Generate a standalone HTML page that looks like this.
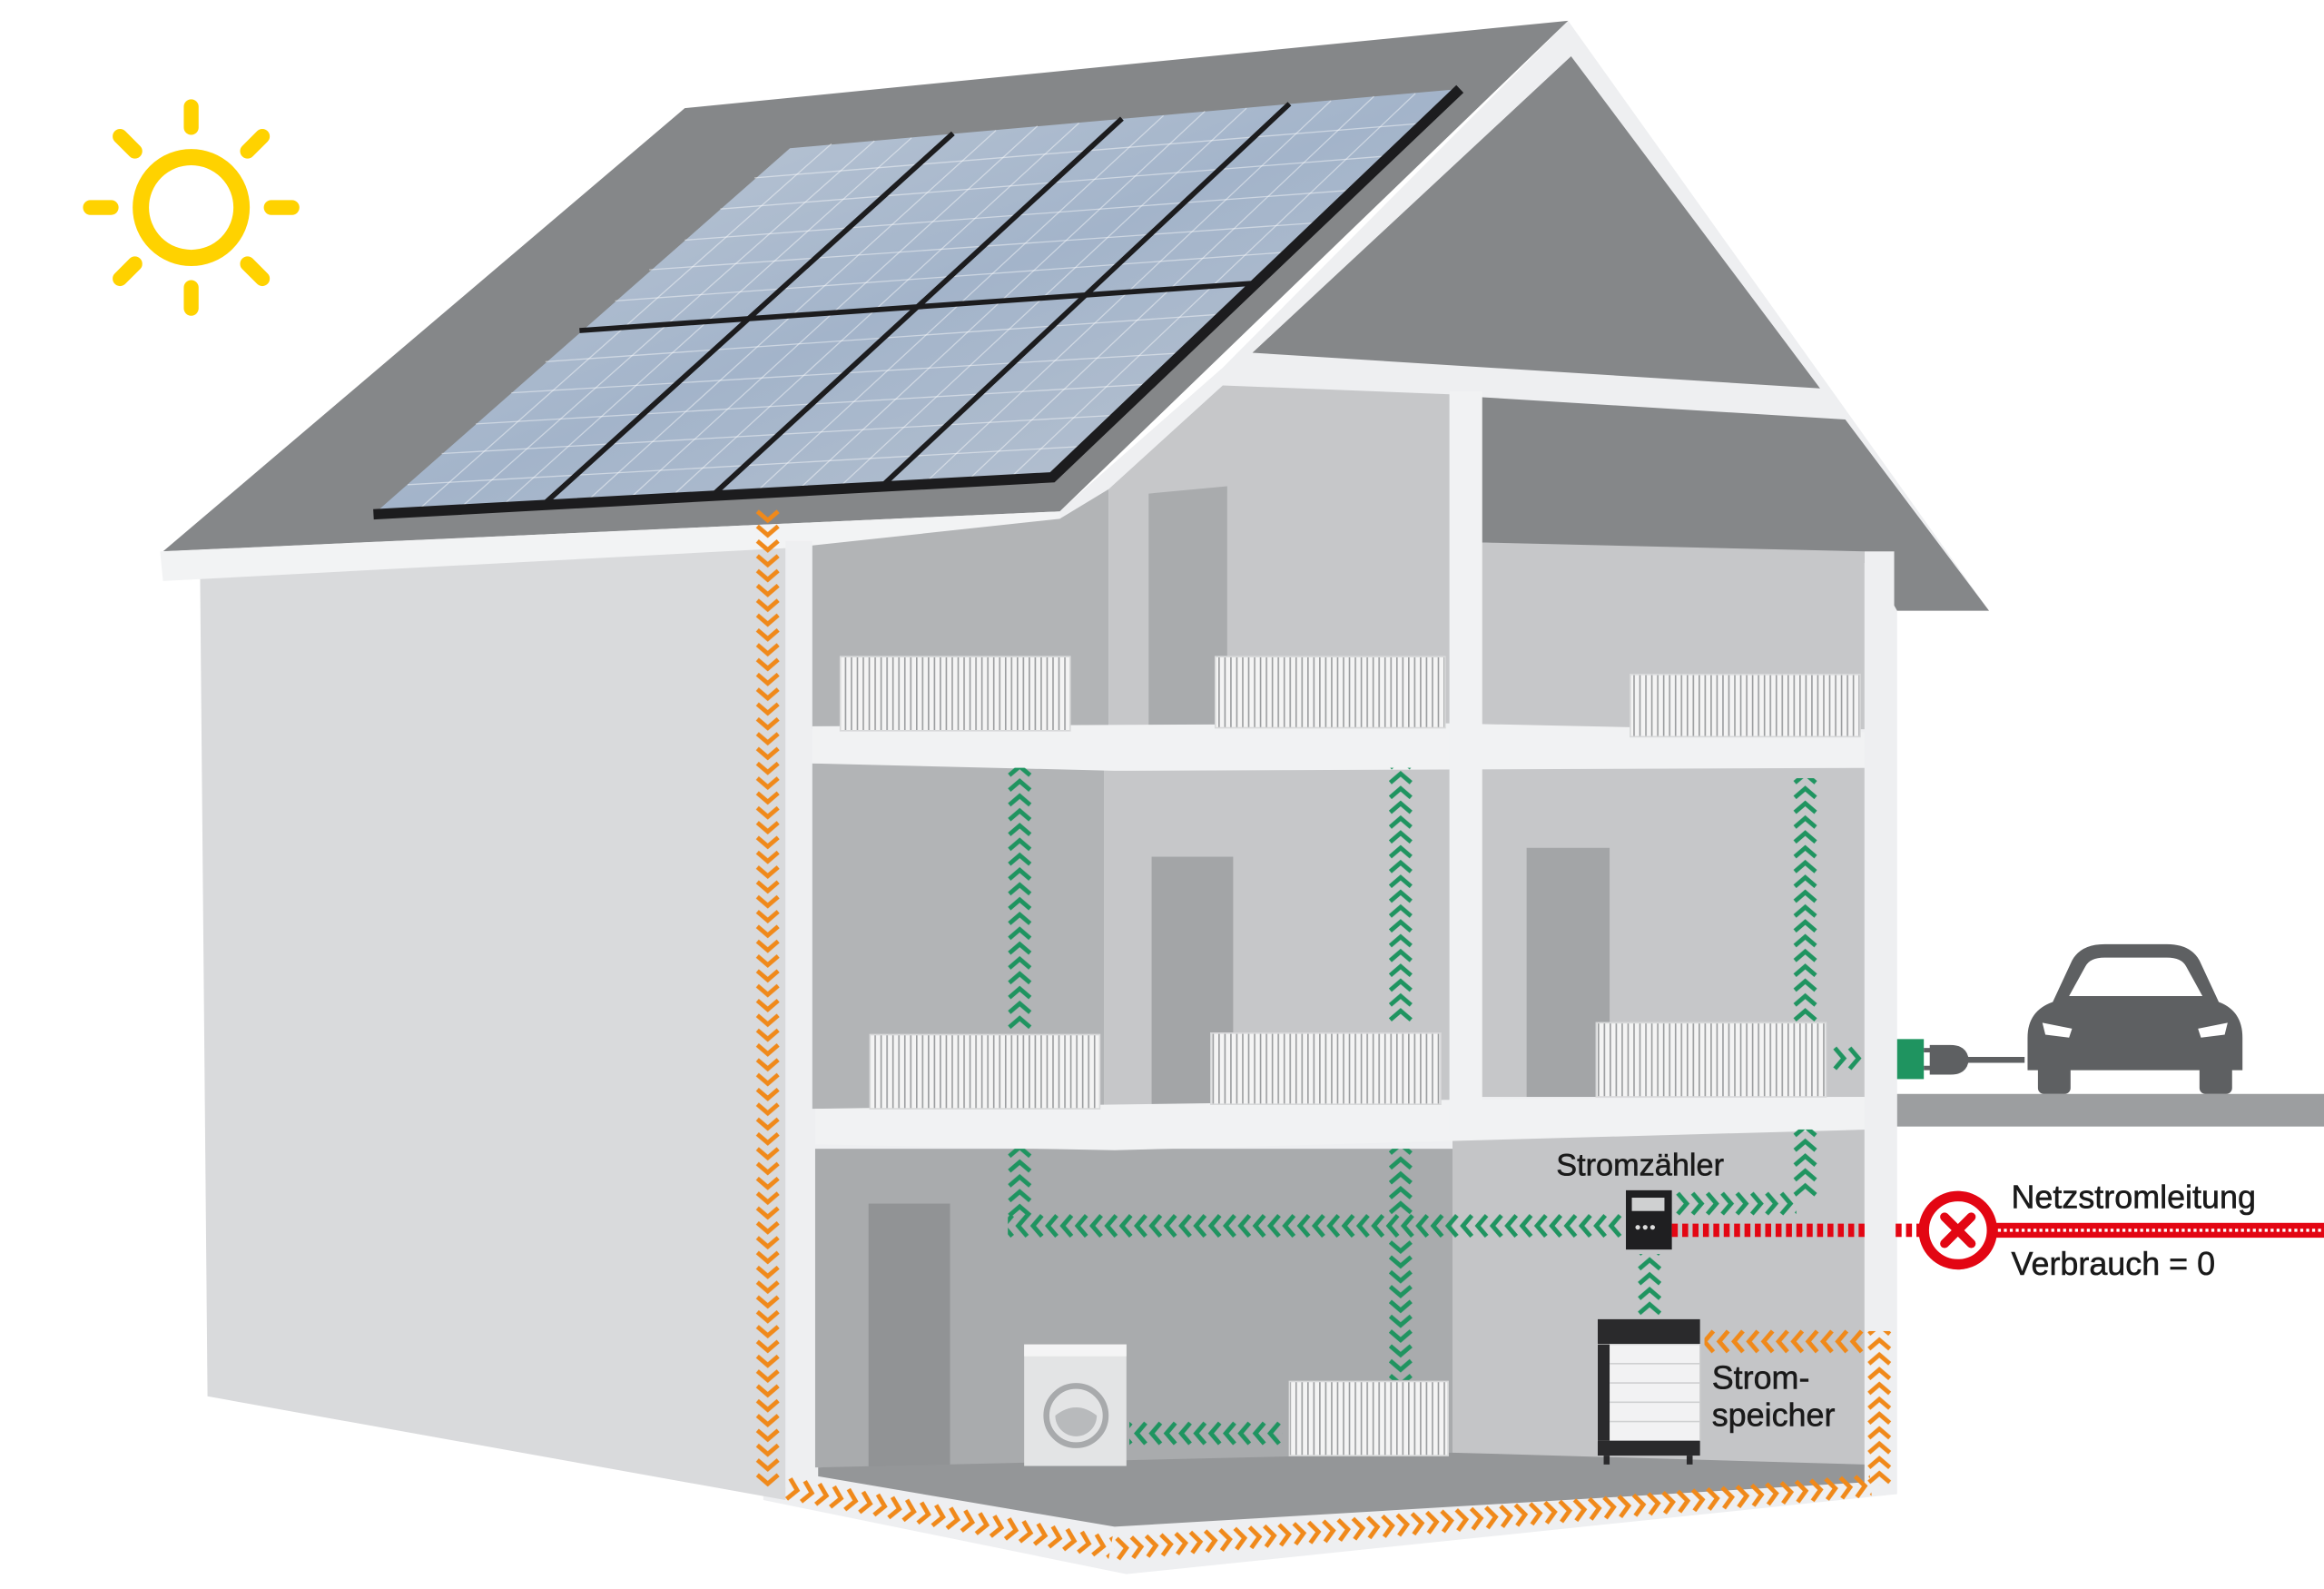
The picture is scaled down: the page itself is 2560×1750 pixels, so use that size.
<!DOCTYPE html>
<html><head><meta charset="utf-8"><style>
html,body{margin:0;padding:0;background:#fff;}
svg{display:block;}
text{font-family:"Liberation Sans",sans-serif;fill:#1a1a1a;stroke:#1a1a1a;stroke-width:0.35;}
</style></head><body>
<svg width="2560" height="1750" viewBox="0 0 1568 1072" preserveAspectRatio="none" xmlns="http://www.w3.org/2000/svg">
<defs>
<pattern id="cg" patternUnits="userSpaceOnUse" x="0" y="-10" width="10" height="20"><path d="M2,3 L8,10 L2,17" stroke="#1f9460" stroke-width="3" fill="none"/></pattern>
<pattern id="co" patternUnits="userSpaceOnUse" x="0" y="-10" width="10" height="20"><path d="M2,3 L8,10 L2,17" stroke="#f0891a" stroke-width="3" fill="none"/></pattern>
<pattern id="rad" patternUnits="userSpaceOnUse" width="4" height="10"><rect width="4" height="10" fill="#f4f4f4"/><rect x="2" width="1" height="10" fill="#9c9ea0"/></pattern>
<linearGradient id="pv" x1="0" y1="0" x2="1" y2="1"><stop offset="0" stop-color="#c2ccd8"/><stop offset="0.5" stop-color="#a3b4ca"/><stop offset="1" stop-color="#bcc6d2"/></linearGradient>
</defs>
<rect width="1568" height="1072" fill="#fff"/>
<g stroke="#ffd200" stroke-linecap="round" fill="none">
<circle cx="129" cy="140" r="34" stroke-width="11"/>
<g stroke-width="10">
<line x1="129" y1="72" x2="129" y2="86"/><line x1="129" y1="194" x2="129" y2="208"/>
<line x1="61" y1="140" x2="75" y2="140"/><line x1="183" y1="140" x2="197" y2="140"/>
<line x1="81" y1="92" x2="91" y2="102"/><line x1="167" y1="178" x2="177" y2="188"/>
<line x1="177" y1="92" x2="167" y2="102"/><line x1="91" y1="178" x2="81" y2="188"/>
</g></g>
<polygon points="515,362 718,342 825,248 1058,14 1342,412 1280,412 1280,1008 760,1062 515,1012" fill="#eeeff1"/>
<polygon points="135,388 530,368 530,1012 140,942" fill="#d9dadc"/>
<polygon points="110,372 462,73 1058,14 715,345" fill="#858789"/>
<polygon points="108,372 715,345 716,360 110,392" fill="#f2f3f4"/>
<polygon points="1060,38 845,238 1228,262" fill="#858789"/>
<polygon points="1000,268 1245,283 1342,412 1280,412 1262,380 1000,366" fill="#858789"/>
<polygon points="548,368 715,350 748,330 748,492 548,492" fill="#b2b4b6"/>
<polygon points="748,330 825,260 978,266 978,492 748,492" fill="#c6c7c9"/>
<polygon points="775,333 828,328 828,490 775,490" fill="#a9abad"/>
<polygon points="1000,366 1258,372 1258,492 1000,492" fill="#c6c7c9"/>
<rect x="548" y="515" width="197" height="233" fill="#b2b4b6"/>
<rect x="745" y="515" width="233" height="233" fill="#c6c7c9"/>
<rect x="777" y="578" width="55" height="170" fill="#a3a5a7"/>
<rect x="1000" y="518" width="258" height="222" fill="#c6c7c9"/>
<rect x="1030" y="572" width="56" height="168" fill="#a3a5a7"/>
<rect x="550" y="775" width="430" height="215" fill="#a9abad"/>
<rect x="980" y="762" width="278" height="228" fill="#c4c5c7"/>
<rect x="586" y="812" width="55" height="178" fill="#919395"/>
<polygon points="552,990 980,980 1258,988 1258,1000 752,1030 552,996" fill="#949698"/>
<polygon points="548,490 978,488 1260,494 1260,518 752,520 548,515" fill="#f1f2f3"/>
<polygon points="550,748 978,742 1262,740 1262,762 752,776 550,772" fill="#f1f2f3"/>
<rect x="978" y="264" width="22" height="500" fill="#f1f2f3"/>
<rect x="530" y="365" width="18" height="640" fill="#eeeff1"/>
<rect x="1258" y="372" width="20" height="635" fill="#eeeff1"/>
<polygon points="252,347 533,100 985,60 710,322" fill="url(#pv)"/>
<g stroke="#ffffff" stroke-opacity="0.45" stroke-width="0.8">
<line x1="275" y1="327" x2="733" y2="301"/><line x1="298" y1="306" x2="755" y2="280"/><line x1="321" y1="286" x2="778" y2="259"/><line x1="345" y1="265" x2="800" y2="238"/><line x1="368" y1="244" x2="824" y2="212"/>
<line x1="415" y1="203" x2="870" y2="170"/><line x1="438" y1="182" x2="893" y2="150"/><line x1="462" y1="162" x2="916" y2="128"/><line x1="486" y1="141" x2="939" y2="105"/><line x1="509" y1="120" x2="962" y2="83"/>
<line x1="281" y1="345" x2="561" y2="97"/><line x1="309" y1="344" x2="590" y2="95"/><line x1="338" y1="342" x2="615" y2="93"/>
<line x1="395" y1="339" x2="672" y2="88"/><line x1="423" y1="338" x2="700" y2="85"/><line x1="452" y1="336" x2="728" y2="83"/>
<line x1="509" y1="333" x2="785" y2="78"/><line x1="538" y1="331" x2="813" y2="75"/><line x1="566" y1="329" x2="841" y2="73"/>
<line x1="624" y1="326" x2="898" y2="68"/><line x1="652" y1="325" x2="927" y2="65"/><line x1="681" y1="323" x2="955" y2="63"/>
</g>
<g stroke="#1c1c1e" stroke-width="3.5">
<line x1="366" y1="341" x2="643" y2="90"/><line x1="481" y1="334" x2="757" y2="80"/><line x1="595" y1="328" x2="870" y2="70"/>
<line x1="391" y1="223" x2="847" y2="191"/>
</g>
<polyline points="252,347 710,322 985,60" fill="none" stroke="#1c1c1e" stroke-width="7"/>
<g stroke="#d8d9da" stroke-width="1">
<rect x="567" y="443" width="155" height="50" fill="url(#rad)"/>
<rect x="820" y="443" width="155" height="48" fill="url(#rad)"/>
<rect x="1100" y="455" width="155" height="42" fill="url(#rad)"/>
<rect x="587" y="698" width="155" height="50" fill="url(#rad)"/>
<rect x="817" y="697" width="155" height="48" fill="url(#rad)"/>
<rect x="1077" y="690" width="155" height="50" fill="url(#rad)"/>
<rect x="870" y="932" width="107" height="50" fill="url(#rad)"/>
</g>
<rect x="691" y="907" width="69" height="82" fill="#e3e4e5"/>
<rect x="691" y="907" width="69" height="8" fill="#f4f4f5"/>
<circle cx="726" cy="955" r="20" fill="none" stroke="#a8aaac" stroke-width="4"/>
<path d="M712,955 Q726,944 740,955 A14,14 0 0 1 712,955 Z" fill="#b8babc"/>
<rect x="1078" y="890" width="69" height="17" fill="#2a2a2c"/>
<rect x="1078" y="907" width="69" height="65" fill="#f2f2f3" stroke="#cfd0d1" stroke-width="0.8"/>
<rect x="1078" y="907" width="8" height="65" fill="#2a2a2c"/>
<g stroke="#cfd0d1"><line x1="1086" y1="920" x2="1147" y2="920"/><line x1="1086" y1="933" x2="1147" y2="933"/><line x1="1086" y1="946" x2="1147" y2="946"/><line x1="1086" y1="959" x2="1147" y2="959"/></g>
<rect x="1078" y="972" width="69" height="10" fill="#2a2a2c"/>
<rect x="1082" y="982" width="4" height="6" fill="#2a2a2c"/><rect x="1138" y="982" width="4" height="6" fill="#2a2a2c"/>
<rect x="1097" y="803" width="31" height="40" fill="#1f1f21"/>
<rect x="1101" y="808" width="22" height="9" fill="#cfd0d1"/>
<g fill="#ddd"><circle cx="1105" cy="828" r="1.6"/><circle cx="1110" cy="828" r="1.6"/><circle cx="1115" cy="828" r="1.6"/></g>
<g transform="translate(518,343) rotate(90)"><rect x="0" y="-10" width="660" height="20" fill="url(#co)"/></g>
<g transform="translate(530,1004) rotate(10.35)"><rect x="0" y="-10" width="223" height="20" fill="url(#co)"/></g>
<g transform="translate(752,1045) rotate(-4.8)"><rect x="0" y="-10" width="512" height="20" fill="url(#co)"/></g>
<g transform="translate(1268,1002) rotate(-90)"><rect x="0" y="-10" width="104" height="20" fill="url(#co)"/></g>
<g transform="translate(1258,905) rotate(180)"><rect x="0" y="-10" width="108" height="20" fill="url(#co)"/></g>
<g transform="translate(688,695) rotate(-90)"><rect x="0" y="-10" width="177" height="20" fill="url(#cg)"/></g>
<g transform="translate(945,690) rotate(-90)"><rect x="0" y="-10" width="172" height="20" fill="url(#cg)"/></g>
<g transform="translate(1218,690) rotate(-90)"><rect x="0" y="-10" width="165" height="20" fill="url(#cg)"/></g>
<g transform="translate(1236,714)"><rect x="0" y="-10" width="20" height="20" fill="url(#cg)"/></g>
<g transform="translate(688,822) rotate(-90)"><rect x="0" y="-10" width="47" height="20" fill="url(#cg)"/></g>
<g transform="translate(1095,827) rotate(180)"><rect x="0" y="-10" width="415" height="20" fill="url(#cg)"/></g>
<g transform="translate(945,820) rotate(-90)"><rect x="0" y="-10" width="45" height="20" fill="url(#cg)"/></g>
<g transform="translate(945,836) rotate(90)"><rect x="0" y="-10" width="95" height="20" fill="url(#cg)"/></g>
<g transform="translate(1130,812)"><rect x="0" y="-10" width="82" height="20" fill="url(#cg)"/></g>
<g transform="translate(1218,808) rotate(-90)"><rect x="0" y="-10" width="46" height="20" fill="url(#cg)"/></g>
<g transform="translate(1113,888) rotate(-90)"><rect x="0" y="-10" width="42" height="20" fill="url(#cg)"/></g>
<g transform="translate(865,967) rotate(180)"><rect x="0" y="-10" width="103" height="20" fill="url(#cg)"/></g>
<line x1="1128" y1="830" x2="1258" y2="830" stroke="#e30613" stroke-width="9" stroke-dasharray="4,3"/>
<line x1="1279" y1="830" x2="1296" y2="830" stroke="#e30613" stroke-width="9" stroke-dasharray="4,3"/>
<rect x="1345" y="825" width="223" height="10" fill="#e30613"/>
<line x1="1348" y1="830" x2="1568" y2="830" stroke="#fff" stroke-width="2" stroke-dasharray="2,2"/>
<circle cx="1321" cy="830" r="23" fill="#fff" stroke="#e30613" stroke-width="7"/>
<g stroke="#e30613" stroke-width="6" stroke-linecap="round"><line x1="1312" y1="821" x2="1330" y2="839"/><line x1="1330" y1="821" x2="1312" y2="839"/></g>
<rect x="1280" y="738" width="288" height="22" fill="#9c9ea0"/>
<path d="M1368,700 Q1368,682 1385,676 L1398,648 Q1404,637 1420,637 L1462,637 Q1478,637 1484,648 L1497,676 Q1513,682 1513,700 L1513,722 L1368,722 Z" fill="#5e6062"/>
<path d="M1396,672 L1407,652 Q1410,646 1420,646 L1462,646 Q1472,646 1475,652 L1486,672 Z" fill="#fff"/>
<rect x="1375" y="718" width="22" height="20" rx="4" fill="#5e6062"/><rect x="1484" y="718" width="22" height="20" rx="4" fill="#5e6062"/>
<path d="M1378,690 L1398,694 L1396,700 L1380,698 Z" fill="#fff"/><path d="M1503,690 L1483,694 L1485,700 L1501,698 Z" fill="#fff"/>
<rect x="1280" y="701" width="18" height="27" fill="#1f9460"/>
<path d="M1302,705 L1316,705 Q1326,705 1328,713 L1366,713 L1366,717 L1328,717 Q1326,725 1316,725 L1302,725 Z" fill="#5e6062"/>
<rect x="1298" y="707" width="6" height="3" fill="#5e6062"/><rect x="1298" y="719" width="6" height="3" fill="#5e6062"/>
<text x="1050" y="793" font-size="21">Stromzähler</text>
<text x="1357" y="815" font-size="22">Netzstromleitung</text>
<text x="1357" y="860" font-size="22">Verbrauch = 0</text>
<text x="1155" y="937" font-size="22">Strom-</text>
<text x="1155" y="962" font-size="22">speicher</text>
</svg>
</body></html>
